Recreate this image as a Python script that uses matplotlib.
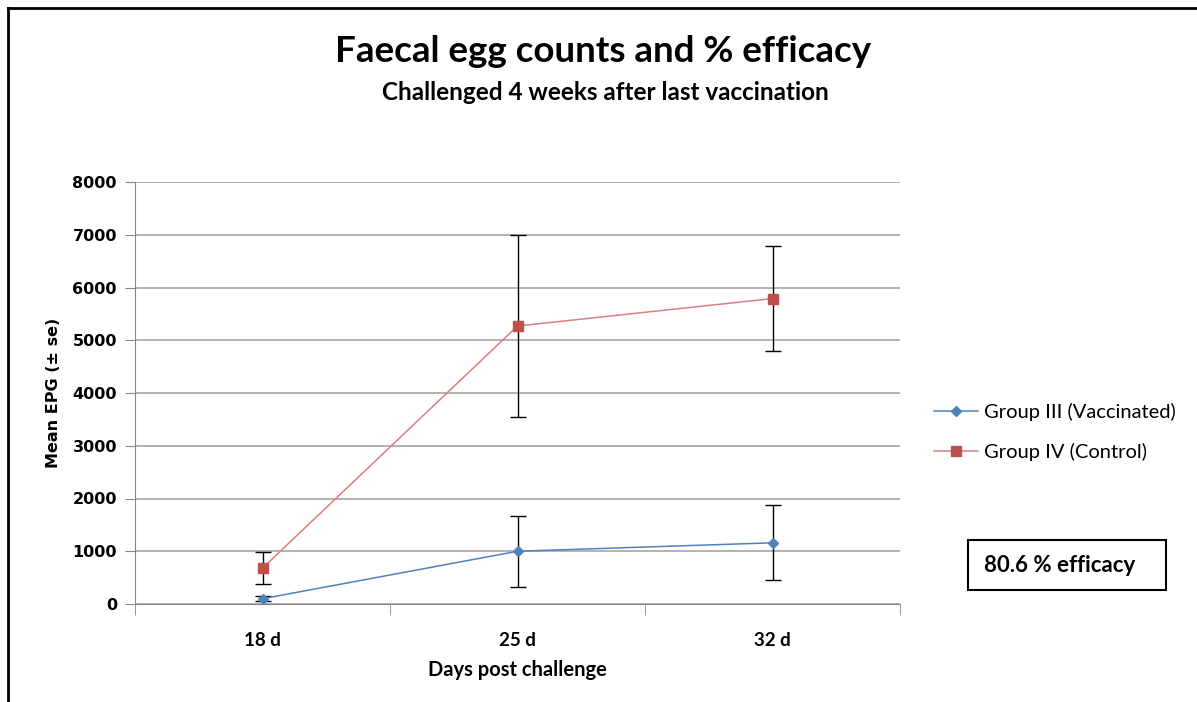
import matplotlib.pyplot as plt
from matplotlib.patches import Rectangle
from matplotlib.lines import Line2D
import numpy as np

days = ["18 d", "25 d", "32 d"]
vacc_mean = [100, 1000, 1160]
vacc_se = [50, 670, 710]
ctrl_mean = [680, 5270, 5790]
ctrl_se = [310, 1730, 1000]
efficacy = 80.6

plt.rcParams['font.family'] = ['Lato', 'DejaVu Sans']

fig = plt.figure(figsize=(11.97, 7.02), dpi=100)
ax = fig.add_axes([135/1197, 98/702, 765/1197, 422/702])

x = np.arange(len(days))
blue = "#4F81BD"
red = "#C0504D"

ax.errorbar(x, ctrl_mean, yerr=ctrl_se, fmt="none", ecolor="black", elinewidth=1, capsize=6, capthick=1, zorder=3)
ax.errorbar(x, vacc_mean, yerr=vacc_se, fmt="none", ecolor="black", elinewidth=1, capsize=6, capthick=1, zorder=3)
ax.plot(x, vacc_mean, color=blue, lw=1.1, marker="D", ms=5.5, mec=blue, mfc=blue, label="Group III (Vaccinated)", zorder=4)
ax.plot(x, ctrl_mean, color="#D9807D", lw=1.1, marker="s", ms=7, mec=red, mfc=red, label="Group IV (Control)", zorder=4)

ax.set_xlim(-0.5, 2.5)
ax.set_ylim(0, 8000)
ax.set_yticks(np.arange(0, 8001, 1000))
ax.set_xticks(x)
ax.set_xticklabels(days, fontsize=13.5, fontweight="bold")
ax.set_xticks([-0.5, 0.5, 1.5, 2.5], minor=True)
ax.tick_params(axis="x", which="major", length=0, pad=20)
ax.tick_params(axis="x", which="minor", length=8, color="#888888", direction="out")
ax.tick_params(axis="y", length=7, color="#888888", direction="out", pad=6)
for lab in ax.get_yticklabels():
    lab.set_family("DejaVu Sans")
    lab.set_fontweight("bold")
    lab.set_fontsize(11.5)

ax.grid(axis="y", color="#A6A6A6", lw=1.2)
ax.set_axisbelow(True)
for s in ["top", "right"]:
    ax.spines[s].set_visible(False)
ax.spines["left"].set_color("#888888")
ax.spines["bottom"].set_color("#888888")

ax.set_xlabel("Days post challenge", fontsize=14.5, fontweight="bold", labelpad=8)
ax.set_ylabel("Mean EPG (± se)", fontsize=11.5, fontweight="bold", family="DejaVu Sans", labelpad=8)

fig.text(603/1197, 1 - 51/702, "Faecal egg counts and % efficacy", ha="center", va="center", fontsize=26.5, fontweight="bold")
fig.text(605/1197, 1 - 92/702, "Challenged 4 weeks after last vaccination", ha="center", va="center", fontsize=17.5, fontweight="bold")

ax.legend(loc="center left", bbox_to_anchor=(916/1197, 1 - 432/702), bbox_transform=fig.transFigure,
          frameon=False, fontsize=14.5, handlelength=2.2, labelspacing=1.1, handletextpad=0.3)

fig.patches.append(Rectangle((968/1197, 1 - 590/702), 198/1197, 50/702, transform=fig.transFigure,
                             fill=False, edgecolor="black", lw=1.5))
fig.text(1060/1197, 1 - 565/702, f"{efficacy} % efficacy", ha="center", va="center", fontsize=16, fontweight="bold")

# outer frame
fig.lines.append(Line2D([8/1197, 8/1197], [0, 1 - 8/702], transform=fig.transFigure, color="black", lw=2))
fig.lines.append(Line2D([8/1197, 1], [1 - 8/702, 1 - 8/702], transform=fig.transFigure, color="black", lw=2))

fig.savefig("out.png", dpi=100)
